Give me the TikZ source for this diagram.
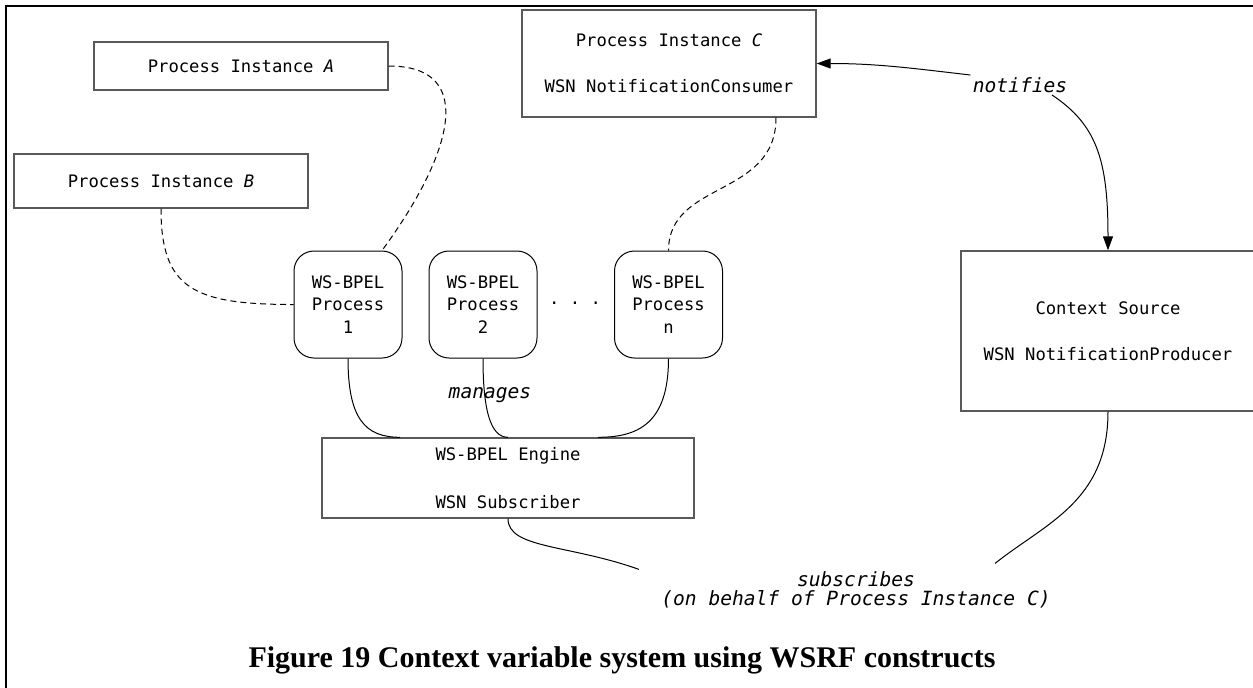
\documentclass[tikz,border=0pt]{standalone}
\usepackage{fontspec}
\setmonofont{DejaVu Sans Mono}
\newfontfamily\captionserif{Liberation Serif}
\usetikzlibrary{positioning, arrows.meta}

\newcommand{\procfont}{\fontsize{8.6}{11.2}\selectfont\ttfamily}
\newcommand{\edgefont}{\fontsize{9.8}{9.5}\selectfont\ttfamily\itshape}

\begin{document}
\begin{tikzpicture}[x=0.5pt, y=-0.5pt, instance/.style={rectangle, draw=black!65, line width=0.7pt, minimum width=147pt, font=\procfont, align=center, inner sep=0pt}, bpel/.style={rectangle, draw=black, line width=0.5pt, rounded corners=10pt, minimum width=54pt, minimum height=53.5pt, font=\procfont, align=center, inner sep=0pt}, verb/.style={font=\edgefont, align=center, inner sep=1pt}, link/.style={line width=0.5pt}, weak/.style={line width=0.5pt, dash pattern=on 3pt off 2pt}, tip/.style={-{Triangle[length=7pt, width=5pt]}}]

    \clip (0,0) rectangle (1253,687);
    \draw[line width=1pt] (6,700) -- (6,6) -- (1260,6);

    % Nodes
    \node[instance, minimum height=24pt]        (instA)  at (241,66)      {Process Instance \textit{A}};
    \node[instance, minimum height=27pt]        (instB)  at (161,181)     {Process Instance \textit{B}};
    \node[instance, minimum height=53.5pt]      (instC)  at (669,63.5)    {Process Instance \textit{C}\\[12pt]WSN NotificationConsumer};
    \node[bpel]                                 (proc1)  at (348,304.5)   {WS-BPEL\\Process\\1};
    \node[bpel]                                 (proc2)  [right=13pt of proc1] {WS-BPEL\\Process\\2};
    \node[font=\procfont]                       (dots)   at (575,303)     {. . .};
    \node[bpel]                                 (procn)  at (668.5,304.5) {WS-BPEL\\Process\\n};
    \node[instance, minimum width=186pt, minimum height=40pt] (engine) at (508,478) {WS-BPEL Engine\\[13pt]WSN Subscriber};
    \node[instance, minimum height=80pt]        (source) at (1108,331)    {Context Source\\[12pt]WSN NotificationProducer};

    \node[verb] (notify)    at (1020,85)  {notifies};
    \node[verb] (manage)    at (490,395)  {manages};
    \node[verb] (subscribe) at (856,590)  {subscribes\\(on behalf of Process Instance C)};

    \node[font=\captionserif\bfseries\fontsize{15}{17}\selectfont] (caption) at (622,660) {Figure 19 Context variable system using WSRF constructs};

    % Lines ---------------
    \draw[weak] (instA.east) .. controls +(92,0) and +(67,-91) .. ([xshift=17pt]proc1.north);
    \draw[weak] (instB.south) .. controls +(0,80) and +(-100,0) .. (proc1.west);
    \draw[weak] ([xshift=53.5pt]instC.south) .. controls +(0,80) and +(0,-70) .. (procn.north);

    \draw[link, tip] (notify.north west) .. controls +(-60,-7) and +(60,0) .. (instC.east);
    \draw[link, tip] ([xshift=16pt]notify.south) .. controls +(45,30) and +(0,-90) .. (source.north);

    \draw[link] (proc1.south) .. controls +(0,60) and +(-35,0) .. ([xshift=-54pt]engine.north);
    \draw[link] (proc2.south) .. controls +(0,50) and +(-18,0) .. (engine.north);
    \draw[link] (procn.south) .. controls +(0,65) and +(40,0) .. ([xshift=45pt]engine.north);

    \draw[link] (engine.south) .. controls +(0,30) and +(-70,-25) .. ([xshift=-10pt]subscribe.north west);
    \draw[link] (source.south) .. controls +(0,90) and +(50,-40) .. ([shift={(-29pt,3pt)}]subscribe.north east);

\end{tikzpicture}
\end{document}
